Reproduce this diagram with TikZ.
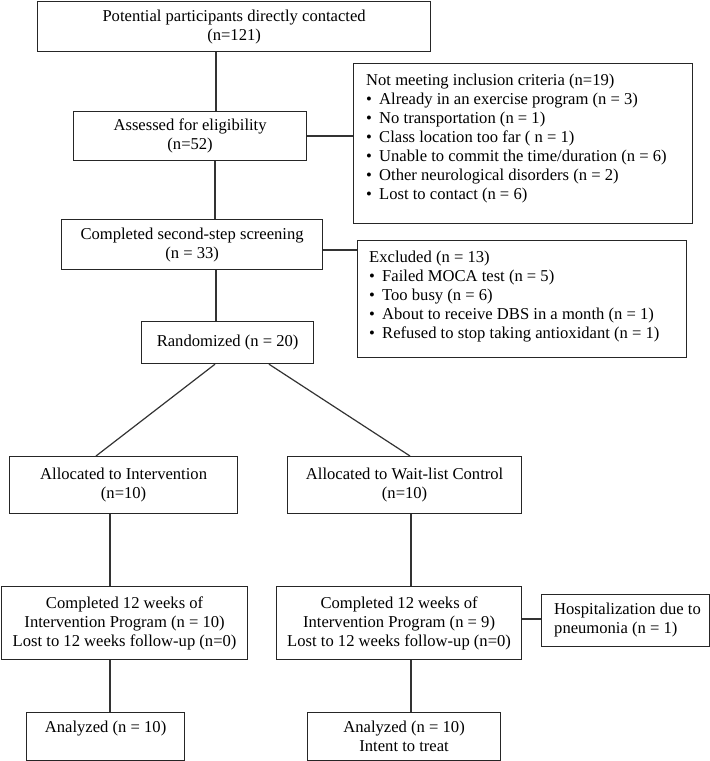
\documentclass[tikz,border=0pt]{standalone}
\usepackage{fontspec}
\setmainfont{Liberation Serif}
\newcommand{\bul}{\makebox[13pt][l]{•}}
\begin{document}
\begin{tikzpicture}[x=1pt,y=-1pt,
  box/.style={draw=black!85,line width=1.2pt,rectangle,anchor=north west,inner sep=0pt,align=center},
  txt/.style={inner sep=0pt,align=left},
  conn/.style={draw=black!80,line width=1.2pt},
  every node/.style={font=\fontsize{16.6}{19}\selectfont}]
\useasboundingbox (0,0) rectangle (710,761);

\node[box,minimum width=393pt,minimum height=50pt] (top) at (37,1) {Potential participants directly contacted\\(n=121)};
\node[box,minimum width=233pt,minimum height=49pt] (assess) at (73,111) {Assessed for eligibility\\(n=52)};
\node[box,minimum width=339pt,minimum height=160pt] (excl1) at (353,63) {};
\node[txt,anchor=north west] (excl1t) at (366,74) {Not meeting inclusion criteria (n=19)\\
\bul Already in an exercise program (n = 3)\\
\bul No transportation (n = 1)\\
\bul Class location too far ( n = 1)\\
\bul Unable to commit the time/duration (n = 6)\\
\bul Other neurological disorders (n = 2)\\
\bul Lost to contact (n = 6)};
\node[box,minimum width=261pt,minimum height=50pt] (screen) at (61,219) {Completed second-step screening\\(n = 33)};
\node[box,minimum width=329pt,minimum height=117pt] (excl2) at (357,240) {};
\node[txt,anchor=north west] (excl2t) at (369,251) {Excluded (n = 13)\\
\bul Failed MOCA test (n = 5)\\
\bul Too busy (n = 6)\\
\bul About to receive DBS in a month (n = 1)\\
\bul Refused to stop taking antioxidant (n = 1)};
\node[box,minimum width=172pt,minimum height=42pt] (rand) at (141,321) {Randomized (n = 20)};
\node[box,minimum width=228pt,minimum height=57pt] (allocI) at (9,456) {Allocated to Intervention\\(n=10)};
\node[box,minimum width=234pt,minimum height=57pt] (allocW) at (287,456) {Allocated to Wait-list Control\\(n=10)};
\node[box,minimum width=246pt,minimum height=73pt] (compI) at (1,586) {Completed 12 weeks of\\Intervention Program (n = 10)\\Lost to 12 weeks follow-up (n=0)};
\node[box,minimum width=245pt,minimum height=73pt] (compW) at (276,586) {Completed 12 weeks of\\Intervention Program (n = 9)\\Lost to 12 weeks follow-up (n=0)};
\node[box,minimum width=168pt,minimum height=52pt] (hosp) at (541,594) {};
\node[txt,anchor=west] (hospt) at (554,620) {Hospitalization due to\\pneumonia (n = 1)};
\node[box,minimum width=158pt,minimum height=48pt] (anaI) at (26,712) {Analyzed (n = 10)\\\mbox{}};
\node[box,minimum width=193pt,minimum height=48pt] (anaW) at (307,712) {Analyzed (n = 10)\\Intent to treat};

\draw[conn] (top.south -| 216,0) -- (assess.north -| 216,0);
\draw[conn] (assess.east |- 0,136) -- (excl1.west |- 0,136);
\draw[conn] (assess.south -| 215,0) -- (screen.north -| 215,0);
\draw[conn] (screen.east |- 0,250) -- (excl2.west |- 0,250);
\draw[conn] (screen.south -| 216,0) -- (rand.north -| 216,0);
\draw[conn] (rand.south -| 215,0) -- (allocI.north -| 96,0);
\draw[conn] (rand.south -| 269,0) -- (allocW.north -| 410,0);
\draw[conn] (allocI.south -| 110,0) -- (compI.north -| 110,0);
\draw[conn] (allocW.south -| 411,0) -- (compW.north -| 411,0);
\draw[conn] (compW.east |- 0,619) -- (hosp.west |- 0,619);
\draw[conn] (compI.south -| 110,0) -- (anaI.north -| 110,0);
\draw[conn] (compW.south -| 411,0) -- (anaW.north -| 411,0);
\end{tikzpicture}
\end{document}
